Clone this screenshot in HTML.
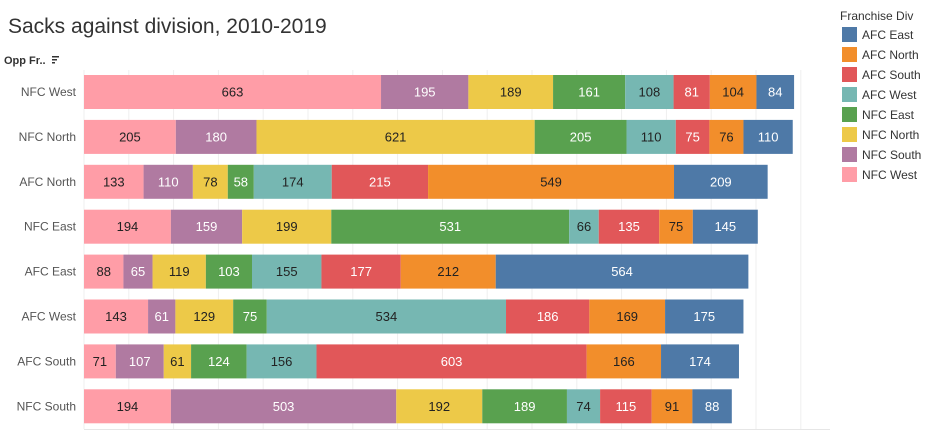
<!DOCTYPE html>
<html><head><meta charset="utf-8"><style>
body{margin:0;background:#fff;font-family:"Liberation Sans",sans-serif;}
svg text{font-family:"Liberation Sans",sans-serif;}
</style></head><body>
<svg id="c" width="940" height="433">
<text x="8" y="33" font-size="21" fill="#333">Sacks against division, 2010-2019</text>
<text x="4" y="64" font-size="11" font-weight="bold" fill="#333">Opp Fr..</text>
<g fill="#333"><rect x="52" y="56" width="7" height="1.5"/><rect x="52" y="59" width="5" height="1.5"/><rect x="52" y="62" width="3" height="1.5"/></g>
<g id="grid"></g><g id="bars"></g><g id="legend"></g>
</svg>
<script>
const rows=["NFC West","NFC North","AFC North","NFC East","AFC East","AFC West","AFC South","NFC South"];
const series=["NFC West","NFC South","NFC North","NFC East","AFC West","AFC South","AFC North","AFC East"];
const colors={"AFC East":"#4e79a7","AFC North":"#f28e2b","AFC South":"#e15759","AFC West":"#76b7b2","NFC East":"#59a14f","NFC North":"#edc948","NFC South":"#b07aa1","NFC West":"#ff9da7"};
const light={"AFC East":1,"AFC South":1,"NFC South":1,"NFC East":1};
const vNFCW=[663,205,133,194,88,143,71,194];
const vNFCS=[195,180,110,159,65,61,107,503];
const vNFCN=[189,621,78,199,119,129,61,192];
const vNFCE=[161,205,58,531,103,75,124,189];
const vAFCW=[108,110,174,66,155,534,156,74];
const vAFCS=[81,75,215,135,177,186,603,115];
const vAFCN=[104,76,549,75,212,169,166,91];
const vAFCE=[84,110,209,145,564,175,174,88];
const legendOrder=["AFC East","AFC North","AFC South","AFC West","NFC East","NFC North","NFC South","NFC West"];
const vals=[vNFCW,vNFCS,vNFCN,vNFCE,vAFCW,vAFCS,vAFCN,vAFCE];
const NS="http://www.w3.org/2000/svg";
const x0=84,k=0.448,rowTop=75,pitch=44.9,bh=34;
const X=v=>x0+v*k, Y=i=>rowTop+i*pitch;
function mk(t,a,p){const e=document.createElementNS(NS,t);for(const n in a)e.setAttribute(n,a[n]);p.appendChild(e);return e;}
const grid=document.getElementById('grid');
for(let g=0;g<=1600;g+=100){const l=mk('line',{x1:X(g),x2:X(g),y1:70,y2:429,stroke:'#efefef'},grid);

}
const bl=mk('line',{x1:84,x2:830,y1:429.5,y2:429.5,stroke:'#e6e6e6'},grid);


const bars=document.getElementById('bars');
rows.forEach((r,i)=>{
 const lab=mk('text',{x:76,y:Y(i)+bh/2+4,'font-size':12,fill:'#555','text-anchor':'end'},bars);lab.textContent=r;
 
 
 let acc=0;
 series.forEach((s,j)=>{
  const v=vals[j][i];
  const rc=mk('rect',{x:X(acc),y:Y(i),width:v*k,height:bh,fill:colors[s]},bars);
  
  
  const t=mk('text',{x:X(acc+v/2),y:Y(i)+bh/2+4.5,'font-size':13,'text-anchor':'middle',fill:light[s]?'#fff':'#222'},bars);
  t.textContent=v;
  
  
  acc+=v;
 });
});
const lg=document.getElementById('legend');
const lt=mk('text',{x:840,y:20,'font-size':12,fill:'#333'},lg);lt.textContent="Franchise Div";


legendOrder.forEach((s,i)=>{
 const y=27+i*20;
 const sw=mk('rect',{x:842,y:y,width:15,height:15,fill:colors[s]},lg);
 
 
 const t=mk('text',{x:862,y:y+12,'font-size':12,fill:'#333'},lg);t.textContent=s;
 
 
});
</script>
</body></html>
